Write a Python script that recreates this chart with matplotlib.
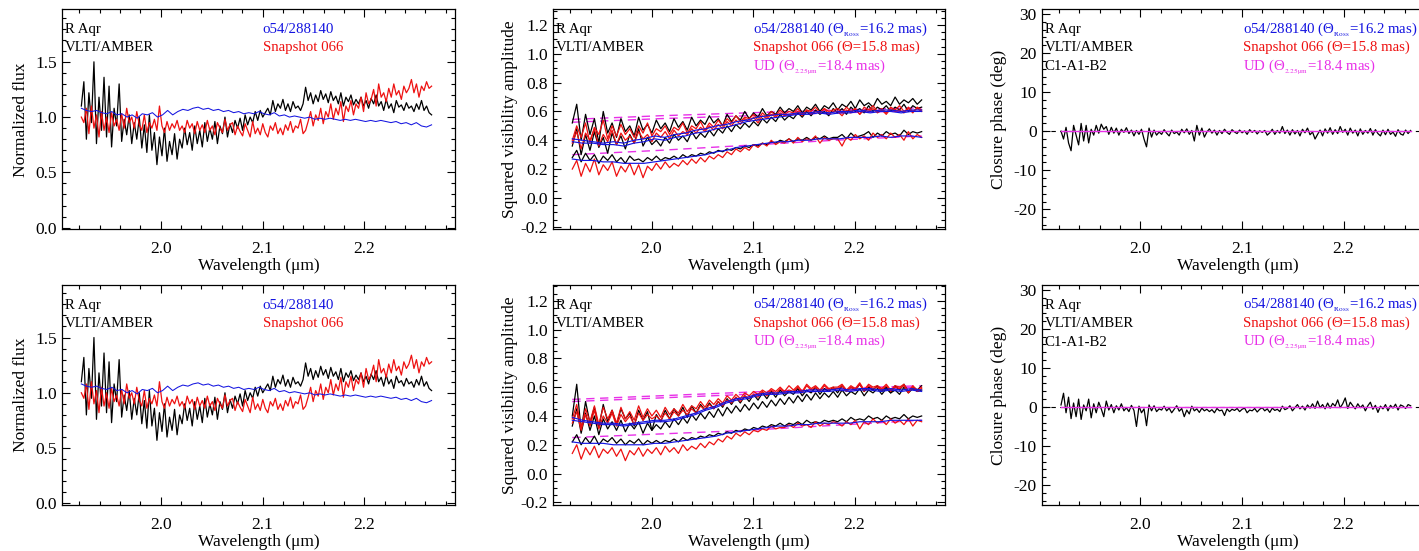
import numpy as np
import matplotlib
matplotlib.use("Agg")
import matplotlib.pyplot as plt
from matplotlib.ticker import MultipleLocator

plt.rcParams['font.family'] = ['Liberation Serif', 'DejaVu Serif']
plt.rcParams['mathtext.fontset'] = 'stix'
plt.rcParams['axes.unicode_minus'] = False
plt.rcParams['xtick.direction'] = 'in'
plt.rcParams['ytick.direction'] = 'in'
plt.rcParams['xtick.top'] = True
plt.rcParams['ytick.right'] = True

WL_MIN, WL_MAX = 1.922, 2.266

# ---- normalized flux (same in both rows) ----
flux_obs = [
    1.10, 1.32, 0.80, 1.22, 0.95, 1.50, 0.76, 1.18, 0.88, 1.36,
    0.82, 1.28, 0.73, 1.08, 0.92, 1.30, 0.78, 0.98, 0.84, 1.02,
    0.76, 0.95, 0.80, 1.00, 0.72, 0.93, 0.68, 1.02, 0.70, 0.86,
    0.57, 0.82, 0.65, 0.90, 0.60, 0.78, 0.66, 0.85, 0.62, 0.80,
    0.72, 0.90, 0.75, 0.86, 0.70, 0.92, 0.76, 0.88, 0.73, 0.95,
    0.78, 0.90, 0.80, 0.96, 0.76, 0.92, 0.85, 1.00, 0.82, 0.94,
    0.86, 0.97, 0.90, 0.99, 0.88, 1.02, 0.93, 1.00, 0.95, 1.05,
    0.97, 1.06, 1.00, 1.04, 1.08, 1.02, 1.15, 1.05, 1.12, 1.08,
    1.16, 1.06, 1.12, 1.05, 1.14, 1.08, 1.10, 1.06, 1.12, 1.27,
    1.15, 1.22, 1.12, 1.20, 1.14, 1.24, 1.16, 1.21, 1.13, 1.23,
    1.15, 1.19, 1.12, 1.22, 1.10, 1.18, 1.14, 1.20, 1.11, 1.16,
    1.12, 1.18, 1.10, 1.15, 1.08, 1.17, 1.12, 1.20, 1.10, 1.14,
    1.06, 1.16, 1.08, 1.12, 1.04, 1.15, 1.09, 1.11, 1.06, 1.13,
    1.08, 1.10, 1.05, 1.12, 1.07, 1.15, 1.06, 1.10, 1.04, 1.02,
]
flux_snap = [
    1.00, 0.95, 1.08, 0.85, 1.10, 0.90, 1.02, 0.82, 1.05, 0.88,
    1.00, 0.86, 1.04, 0.92, 0.98, 0.88, 1.03, 0.90, 1.08, 0.95,
    1.00, 0.90, 1.05, 0.93, 0.88, 1.02, 0.86, 0.95, 0.90, 0.98,
    0.88, 1.10, 0.92, 0.86, 0.96, 0.88, 0.94, 0.90, 0.97, 0.88,
    0.92, 0.86, 0.97, 0.90, 0.94, 0.85, 0.96, 0.88, 0.93, 0.86,
    0.97, 0.88, 0.92, 0.84, 0.95, 0.90, 0.86, 0.98, 0.88, 0.93,
    0.95, 0.84, 0.92, 0.87, 0.83, 0.94, 0.88, 0.82, 0.96, 0.85,
    0.90, 0.84, 0.94, 0.86, 0.82, 0.92, 0.88, 0.95, 0.85, 0.90,
    0.84, 0.93, 0.88, 0.96, 0.86, 0.92, 0.90, 0.98, 0.85, 0.88,
    0.96, 1.05, 0.92, 1.02, 0.97, 1.08, 0.94, 1.05, 1.00, 1.12,
    0.98, 1.08, 1.02, 1.14, 0.96, 1.10, 1.05, 1.15, 1.02, 1.12,
    1.08, 1.18, 1.05, 1.22, 1.12, 1.16, 1.25, 1.10, 1.30, 1.18,
    1.22, 1.14, 1.26, 1.18, 1.30, 1.20, 1.24, 1.16, 1.28, 1.22,
    1.26, 1.34, 1.22, 1.30, 1.18, 1.28, 1.24, 1.32, 1.26, 1.28,
]
flux_model = [
    1.08, 1.06, 1.05, 1.06, 1.04, 1.03, 1.05, 1.02, 1.03, 1.00,
    1.02, 0.99, 1.03, 1.02, 1.04, 1.00, 1.02, 1.06, 1.02, 1.05,
    1.07, 1.06, 1.08, 1.09, 1.07, 1.08, 1.06, 1.07, 1.05, 1.06,
    1.04, 1.05, 1.03, 1.04, 1.03, 1.05, 1.03, 1.02, 1.04, 1.01,
    1.02, 1.00, 1.01, 1.00, 0.99, 1.00, 0.98, 0.99, 0.98, 0.99,
    0.98, 0.97, 0.98, 0.97, 0.98, 0.97, 0.96, 0.97, 0.96, 0.97,
    0.96, 0.95, 0.96, 0.94, 0.95, 0.93, 0.95, 0.92, 0.91, 0.93,
]

# ---- squared visibilities, top row (three baselines) ----
vis1_obs = [
    [0.52, 0.65, 0.40, 0.58, 0.44, 0.55, 0.38, 0.60, 0.45, 0.52,
     0.42, 0.55, 0.46, 0.50, 0.43, 0.56, 0.47, 0.51, 0.45, 0.54,
     0.48, 0.52, 0.46, 0.55, 0.49, 0.53, 0.47, 0.56, 0.50, 0.54,
     0.51, 0.57, 0.52, 0.55, 0.50, 0.58, 0.53, 0.57, 0.54, 0.60,
     0.55, 0.59, 0.56, 0.62, 0.57, 0.60, 0.58, 0.63, 0.59, 0.62,
     0.60, 0.64, 0.59, 0.63, 0.61, 0.65, 0.60, 0.64, 0.62, 0.66,
     0.61, 0.65, 0.63, 0.67, 0.62, 0.68, 0.64, 0.66, 0.63, 0.69,
     0.65, 0.67, 0.64, 0.70, 0.65, 0.68, 0.66, 0.69, 0.65, 0.68],
    [0.36, 0.48, 0.30, 0.44, 0.33, 0.46, 0.35, 0.42, 0.31, 0.45,
     0.37, 0.43, 0.34, 0.44, 0.38, 0.48, 0.36, 0.42, 0.37, 0.40,
     0.36, 0.42, 0.38, 0.44, 0.40, 0.43, 0.39, 0.46, 0.41, 0.45,
     0.42, 0.47, 0.43, 0.48, 0.45, 0.50, 0.46, 0.51, 0.48, 0.52,
     0.49, 0.53, 0.50, 0.55, 0.52, 0.56, 0.53, 0.58, 0.54, 0.57,
     0.55, 0.59, 0.56, 0.60, 0.57, 0.61, 0.58, 0.60, 0.57, 0.62,
     0.59, 0.62, 0.58, 0.63, 0.60, 0.62, 0.59, 0.64, 0.60, 0.63,
     0.61, 0.64, 0.60, 0.63, 0.61, 0.65, 0.60, 0.64, 0.62, 0.63],
    [0.28, 0.33, 0.25, 0.31, 0.26, 0.30, 0.24, 0.29, 0.26, 0.30,
     0.25, 0.28, 0.24, 0.29, 0.26, 0.27, 0.25, 0.28, 0.26, 0.29,
     0.26, 0.28, 0.27, 0.29, 0.27, 0.30, 0.28, 0.30, 0.29, 0.31,
     0.30, 0.32, 0.31, 0.33, 0.32, 0.34, 0.33, 0.35, 0.34, 0.36,
     0.35, 0.37, 0.36, 0.38, 0.37, 0.39, 0.38, 0.40, 0.39, 0.41,
     0.39, 0.41, 0.40, 0.42, 0.40, 0.42, 0.41, 0.43, 0.41, 0.42,
     0.42, 0.44, 0.41, 0.45, 0.42, 0.43, 0.44, 0.46, 0.42, 0.45,
     0.43, 0.46, 0.44, 0.45, 0.43, 0.47, 0.44, 0.46, 0.45, 0.46],
]
vis1_snap = [
    [0.40, 0.50, 0.42, 0.52, 0.38, 0.49, 0.44, 0.54, 0.41, 0.50,
     0.43, 0.51, 0.44, 0.48, 0.42, 0.50, 0.45, 0.52, 0.43, 0.48,
     0.46, 0.50, 0.44, 0.49, 0.47, 0.52, 0.45, 0.50, 0.48, 0.53,
     0.47, 0.52, 0.49, 0.54, 0.50, 0.55, 0.52, 0.57, 0.53, 0.56,
     0.55, 0.58, 0.54, 0.59, 0.56, 0.60, 0.57, 0.61, 0.58, 0.60,
     0.59, 0.62, 0.58, 0.61, 0.60, 0.63, 0.59, 0.62, 0.60, 0.61,
     0.62, 0.59, 0.63, 0.60, 0.62, 0.58, 0.63, 0.61, 0.64, 0.60,
     0.62, 0.59, 0.63, 0.61, 0.64, 0.60, 0.62, 0.59, 0.63, 0.61],
    [0.38, 0.46, 0.34, 0.45, 0.40, 0.48, 0.36, 0.44, 0.39, 0.47,
     0.37, 0.45, 0.40, 0.43, 0.38, 0.46, 0.41, 0.44, 0.39, 0.45,
     0.42, 0.46, 0.41, 0.47, 0.43, 0.46, 0.44, 0.48, 0.45, 0.49,
     0.46, 0.50, 0.47, 0.51, 0.48, 0.53, 0.50, 0.54, 0.51, 0.55,
     0.53, 0.56, 0.52, 0.57, 0.55, 0.58, 0.56, 0.59, 0.57, 0.58,
     0.58, 0.60, 0.57, 0.61, 0.58, 0.60, 0.59, 0.62, 0.58, 0.60,
     0.60, 0.57, 0.61, 0.59, 0.62, 0.58, 0.61, 0.60, 0.62, 0.59,
     0.61, 0.58, 0.62, 0.60, 0.61, 0.59, 0.63, 0.60, 0.62, 0.60],
    [0.20, 0.26, 0.15, 0.24, 0.18, 0.27, 0.16, 0.23, 0.19, 0.25,
     0.15, 0.22, 0.18, 0.24, 0.16, 0.23, 0.14, 0.22, 0.19, 0.24,
     0.20, 0.25, 0.21, 0.24, 0.22, 0.26, 0.23, 0.27, 0.24, 0.28,
     0.25, 0.29, 0.27, 0.30, 0.28, 0.32, 0.30, 0.34, 0.32, 0.35,
     0.33, 0.37, 0.35, 0.38, 0.36, 0.40, 0.37, 0.39, 0.38, 0.41,
     0.38, 0.42, 0.39, 0.41, 0.40, 0.43, 0.38, 0.42, 0.40, 0.41,
     0.41, 0.36, 0.42, 0.40, 0.44, 0.41, 0.43, 0.40, 0.45, 0.42,
     0.44, 0.41, 0.45, 0.42, 0.44, 0.40, 0.46, 0.41, 0.44, 0.42],
]
vis1_model = [
    [0.41, 0.40, 0.39, 0.38, 0.39, 0.38, 0.40, 0.41, 0.43, 0.42,
     0.44, 0.45, 0.47, 0.48, 0.50, 0.51, 0.53, 0.54, 0.56, 0.57,
     0.58, 0.58, 0.59, 0.59, 0.60, 0.59, 0.60, 0.60, 0.61, 0.60,
     0.61, 0.61, 0.60, 0.61, 0.61],
    [0.39, 0.38, 0.38, 0.37, 0.37, 0.36, 0.38, 0.39, 0.41, 0.40,
     0.42, 0.43, 0.45, 0.46, 0.48, 0.49, 0.51, 0.53, 0.54, 0.55,
     0.56, 0.57, 0.58, 0.58, 0.59, 0.58, 0.59, 0.59, 0.60, 0.59,
     0.60, 0.60, 0.59, 0.60, 0.60],
    [0.27, 0.26, 0.26, 0.25, 0.25, 0.24, 0.24, 0.24, 0.25, 0.26,
     0.27, 0.28, 0.29, 0.30, 0.32, 0.33, 0.35, 0.36, 0.37, 0.38,
     0.39, 0.39, 0.40, 0.40, 0.41, 0.41, 0.41, 0.42, 0.42, 0.42,
     0.43, 0.42, 0.43, 0.43, 0.42],
]
vis1_ud = [
    [0.545, 0.570, 0.590, 0.610, 0.625],
    [0.525, 0.550, 0.570, 0.590, 0.605],
    [0.300, 0.330, 0.365, 0.400, 0.430],
]

# ---- squared visibilities, bottom row ----
vis2_obs = [
    [0.40, 0.62, 0.30, 0.50, 0.35, 0.46, 0.32, 0.48, 0.36, 0.44,
     0.34, 0.45, 0.38, 0.42, 0.33, 0.44, 0.37, 0.43, 0.30, 0.41,
     0.36, 0.44, 0.38, 0.45, 0.40, 0.46, 0.39, 0.47, 0.42, 0.48,
     0.44, 0.49, 0.45, 0.50, 0.46, 0.52, 0.48, 0.53, 0.49, 0.54,
     0.50, 0.55, 0.51, 0.56, 0.52, 0.57, 0.53, 0.58, 0.54, 0.57,
     0.55, 0.59, 0.54, 0.58, 0.56, 0.60, 0.55, 0.59, 0.57, 0.60,
     0.56, 0.61, 0.57, 0.60, 0.58, 0.62, 0.57, 0.60, 0.58, 0.61,
     0.57, 0.60, 0.56, 0.61, 0.58, 0.62, 0.57, 0.60, 0.58, 0.61],
    [0.33, 0.45, 0.28, 0.42, 0.30, 0.40, 0.27, 0.38, 0.31, 0.36,
     0.30, 0.37, 0.29, 0.35, 0.31, 0.36, 0.28, 0.35, 0.30, 0.34,
     0.31, 0.36, 0.32, 0.38, 0.34, 0.39, 0.35, 0.41, 0.37, 0.42,
     0.38, 0.43, 0.39, 0.45, 0.40, 0.46, 0.42, 0.47, 0.43, 0.48,
     0.44, 0.49, 0.45, 0.50, 0.46, 0.51, 0.47, 0.52, 0.48, 0.53,
     0.49, 0.54, 0.50, 0.55, 0.51, 0.56, 0.52, 0.56, 0.53, 0.57,
     0.53, 0.58, 0.54, 0.57, 0.55, 0.59, 0.54, 0.58, 0.56, 0.59,
     0.55, 0.59, 0.56, 0.58, 0.55, 0.60, 0.56, 0.59, 0.57, 0.58],
    [0.22, 0.27, 0.20, 0.25, 0.21, 0.26, 0.20, 0.24, 0.22, 0.25,
     0.21, 0.24, 0.20, 0.23, 0.21, 0.24, 0.20, 0.23, 0.21, 0.23,
     0.21, 0.23, 0.22, 0.24, 0.22, 0.25, 0.23, 0.25, 0.24, 0.26,
     0.25, 0.27, 0.26, 0.28, 0.27, 0.29, 0.28, 0.30, 0.29, 0.31,
     0.30, 0.32, 0.31, 0.33, 0.32, 0.34, 0.33, 0.35, 0.33, 0.35,
     0.34, 0.36, 0.34, 0.37, 0.35, 0.36, 0.35, 0.37, 0.36, 0.37,
     0.36, 0.38, 0.36, 0.39, 0.37, 0.38, 0.37, 0.40, 0.38, 0.39,
     0.37, 0.40, 0.38, 0.39, 0.38, 0.41, 0.38, 0.40, 0.39, 0.40],
]
vis2_snap = [
    [0.38, 0.48, 0.32, 0.45, 0.36, 0.47, 0.34, 0.46, 0.38, 0.44,
     0.35, 0.46, 0.38, 0.43, 0.37, 0.47, 0.39, 0.45, 0.40, 0.44,
     0.39, 0.46, 0.41, 0.45, 0.42, 0.48, 0.43, 0.47, 0.45, 0.50,
     0.46, 0.51, 0.48, 0.52, 0.49, 0.54, 0.51, 0.55, 0.52, 0.56,
     0.54, 0.57, 0.55, 0.58, 0.56, 0.59, 0.57, 0.60, 0.57, 0.61,
     0.58, 0.61, 0.57, 0.62, 0.59, 0.61, 0.58, 0.62, 0.59, 0.60,
     0.60, 0.62, 0.58, 0.61, 0.59, 0.63, 0.58, 0.62, 0.60, 0.61,
     0.59, 0.62, 0.58, 0.61, 0.60, 0.62, 0.57, 0.61, 0.58, 0.60],
    [0.35, 0.43, 0.30, 0.41, 0.33, 0.44, 0.31, 0.40, 0.35, 0.42,
     0.33, 0.41, 0.36, 0.40, 0.34, 0.42, 0.37, 0.41, 0.38, 0.40,
     0.37, 0.42, 0.38, 0.43, 0.40, 0.44, 0.41, 0.45, 0.42, 0.47,
     0.44, 0.48, 0.45, 0.50, 0.47, 0.51, 0.49, 0.53, 0.50, 0.54,
     0.52, 0.55, 0.53, 0.57, 0.54, 0.58, 0.55, 0.59, 0.56, 0.58,
     0.57, 0.60, 0.56, 0.61, 0.58, 0.60, 0.57, 0.61, 0.58, 0.59,
     0.59, 0.61, 0.57, 0.60, 0.58, 0.62, 0.57, 0.61, 0.59, 0.60,
     0.58, 0.61, 0.57, 0.60, 0.59, 0.61, 0.56, 0.60, 0.57, 0.59],
    [0.14, 0.20, 0.10, 0.18, 0.13, 0.19, 0.11, 0.17, 0.14, 0.18,
     0.12, 0.17, 0.09, 0.16, 0.13, 0.18, 0.12, 0.17, 0.14, 0.18,
     0.13, 0.19, 0.15, 0.18, 0.14, 0.20, 0.16, 0.19, 0.17, 0.21,
     0.18, 0.22, 0.20, 0.24, 0.22, 0.26, 0.24, 0.28, 0.26, 0.29,
     0.27, 0.30, 0.29, 0.31, 0.30, 0.33, 0.31, 0.32, 0.32, 0.34,
     0.32, 0.35, 0.33, 0.34, 0.32, 0.36, 0.33, 0.35, 0.34, 0.36,
     0.35, 0.33, 0.36, 0.34, 0.37, 0.31, 0.36, 0.34, 0.38, 0.35,
     0.37, 0.34, 0.38, 0.35, 0.37, 0.34, 0.38, 0.33, 0.37, 0.36],
]
vis2_model = [
    [0.39, 0.37, 0.36, 0.35, 0.35, 0.34, 0.35, 0.36, 0.37, 0.37,
     0.38, 0.40, 0.42, 0.45, 0.47, 0.50, 0.52, 0.53, 0.55, 0.56,
     0.56, 0.57, 0.57, 0.58, 0.58, 0.58, 0.59, 0.58, 0.59, 0.59,
     0.58, 0.59, 0.58, 0.59, 0.58],
    [0.37, 0.36, 0.35, 0.34, 0.34, 0.33, 0.34, 0.35, 0.36, 0.36,
     0.37, 0.39, 0.41, 0.44, 0.46, 0.49, 0.51, 0.52, 0.54, 0.55,
     0.55, 0.56, 0.56, 0.57, 0.57, 0.57, 0.58, 0.57, 0.58, 0.58,
     0.57, 0.58, 0.57, 0.58, 0.57],
    [0.22, 0.21, 0.21, 0.21, 0.20, 0.20, 0.20, 0.20, 0.21, 0.21,
     0.22, 0.23, 0.24, 0.25, 0.26, 0.28, 0.29, 0.30, 0.31, 0.32,
     0.33, 0.33, 0.34, 0.34, 0.35, 0.35, 0.35, 0.35, 0.36, 0.36,
     0.36, 0.37, 0.37, 0.37, 0.37],
]
vis2_ud = [
    [0.515, 0.540, 0.565, 0.590, 0.610],
    [0.500, 0.525, 0.550, 0.575, 0.600],
    [0.250, 0.275, 0.300, 0.335, 0.370],
]

# ---- closure phases (deg) ----
cp1_obs = [
    0.0, -2.0, 1.0, -3.0, -5.0, 1.5, -1.0, -3.5, 2.0, -2.5,
    1.5, -3.0, 0.5, -1.0, 1.5, -0.5, 1.8, 0.5, 1.2, -0.8,
    1.0, -0.5, 0.8, -1.0, 0.5, -0.3, 0.9, -0.6, 0.3, -1.2,
    0.2, -0.8, 0.5, -2.0, -4.0, 0.8, -1.5, 0.3, -1.0, -0.2,
    -0.8, 0.4, -0.5, -1.2, 0.3, -0.6, -0.2, -1.0, 0.5, -0.4,
    0.6, -0.8, 0.2, -2.5, 1.5, -1.0, 0.8, -1.5, -0.2, 0.6,
    -0.5, 0.3, -1.0, 0.2, -0.6, 0.5, -0.3, -0.8, 0.4, -0.2,
    -0.6, 0.3, -0.4, 0.1, -0.8, 0.4, -0.3, 0.2, -0.7, 0.1,
    -0.3, 0.2, -1.0, -0.4, 0.5, -0.8, 0.2, -0.5, 1.2, -0.6,
    0.3, -1.0, 0.4, -0.7, 0.2, -1.2, 0.5, -0.4, 0.8, -0.9,
    -0.2, -2.0, -0.8, 0.3, -1.2, 0.6, -0.5, 0.9, -0.8, 0.4,
    -0.6, 1.2, -0.3, 0.5, -1.0, 0.8, -0.5, 0.3, -1.2, 0.6,
    -0.8, 0.2, -0.5, 0.7, -1.0, 0.4, -0.6, -1.2, 0.3, -0.9,
    0.5, -0.8, -0.2, -1.3, 0.4, -0.7, -1.0, 0.3, -0.6, 0.2,
]
cp2_obs = [
    0.5, 3.5, -1.5, 2.5, -3.0, 1.0, -2.5, 2.0, -3.2, 0.5,
    -1.0, 2.0, -2.8, 0.8, -1.5, 1.2, -0.5, -2.5, 1.5, -0.8,
    0.6, -1.5, 0.3, -0.8, 0.8, -1.0, -0.2, -1.2, 0.4, -0.9,
    -5.0, 0.2, -1.5, -0.5, -4.8, 0.5, -1.0, 0.3, -1.2, -0.5,
    -0.8, 0.2, -1.0, -0.3, -1.5, -0.6, 0.3, -1.1, -0.4, -2.5,
    -0.8, -1.8, 0.2, -1.0, -0.5, -1.4, -0.3, -1.0, -0.6, -1.2,
    -0.7, -1.5, -0.4, -1.0, -0.8, -2.2, -0.5, -1.2, -0.6, -0.9,
    -0.4, -1.2, -0.6, -0.3, -1.5, -0.8, -1.0, -0.4, -1.3, -0.6,
    -0.2, -1.0, -0.5, -1.4, -0.3, -0.9, -0.6, -1.2, 0.2, -0.7,
    -0.4, 0.3, -1.0, -0.2, 0.6, -0.5, 0.2, -0.8, 0.5, -0.3,
    0.8, -0.4, 1.5, -0.2, 0.6, -0.5, 1.0, -0.3, 0.9, 0.2,
    1.8, -0.2, 0.8, 2.3, -0.4, 1.2, 0.3, -0.5, 0.8, -0.2,
    0.5, -1.0, 0.3, 1.2, -0.6, 0.4, -1.4, 0.2, -0.5, 0.6,
    -1.0, 0.4, -0.3, 0.7, -0.8, 0.5, 0.2, -0.4, 0.6, 0.3,
]
cp_ud = [0.0, 0.0]

BLUE = '#1414e0'
RED = '#ee1111'
MAG = '#e830e8'
THETA_LINES = [
    ('o54/288140 (Θ$_{_{\\rm Ross}}$=16.2 mas)', BLUE),
    ('Snapshot 066 (Θ=15.8 mas)', RED),
    ('UD (Θ$_{_{\\rm 2.25µm}}$=18.4 mas)', MAG),
]
W, H = 1419, 551


def grid(vals):
    return np.linspace(WL_MIN, WL_MAX, len(vals))


def make_axes(fig, left, right, top, bottom):
    return fig.add_axes([left / W, 1 - bottom / H, (right - left) / W, (bottom - top) / H])


def style(ax, ylim, ymaj, ymin, ylabel, lab_x):
    ax.set_xlim(1.903, 2.289)
    ax.set_ylim(*ylim)
    ax.xaxis.set_major_locator(MultipleLocator(0.1))
    ax.xaxis.set_minor_locator(MultipleLocator(0.02))
    ax.yaxis.set_major_locator(MultipleLocator(ymaj))
    ax.yaxis.set_minor_locator(MultipleLocator(ymin))
    ax.tick_params(which='major', length=6, width=0.8, labelsize=12.5)
    ax.tick_params(which='minor', length=3, width=0.8)
    ax.tick_params(axis='x', which='major', pad=8.5)
    ax.xaxis.set_major_formatter(plt.FuncFormatter(lambda v, p: f'{v:.1f}'))
    ax.set_xlabel('Wavelength (μm)', fontsize=12.5, labelpad=0.5)
    ax.set_ylabel(ylabel, fontsize=12.5)
    ax.yaxis.set_label_coords(lab_x, 0.5)
    for s in ax.spines.values():
        s.set_linewidth(0.9)


def labels(ax, left_lines, right_lines, xr):
    ys = [0.892, 0.81, 0.724]
    for t, y in zip(left_lines, ys):
        ax.text(0.008, y, t, transform=ax.transAxes, fontsize=10.7, va='baseline')
    for (t, c), y in zip(right_lines, ys):
        ax.text(xr, y, t, transform=ax.transAxes, fontsize=10.7, va='baseline', color=c)


fig = plt.figure(figsize=(W / 100, H / 100), dpi=100)

rows = [
    (9.3, 229.3, vis1_obs, vis1_snap, vis1_model, vis1_ud, cp1_obs),
    (285.0, 505.0, vis2_obs, vis2_snap, vis2_model, vis2_ud, cp2_obs),
]

for top, bot, v_obs, v_snap, v_mod, v_ud, cp_obs in rows:
    # flux
    ax = make_axes(fig, 62, 455, top, bot)
    ax.plot(grid(flux_obs), flux_obs, color='black', lw=0.9)
    ax.plot(grid(flux_snap), flux_snap, color=RED, lw=0.9)
    ax.plot(grid(flux_model), flux_model, color=BLUE, lw=0.75)
    style(ax, (-0.015, 1.975), 0.5, 0.1, 'Normalized flux', -0.085)
    ax.yaxis.set_major_formatter(plt.FuncFormatter(lambda v, p: f'{v:.1f}'))
    labels(ax, ['R Aqr', 'VLTI/AMBER'], [('o54/288140', BLUE), ('Snapshot 066', RED)], 0.511)

    # squared visibilities
    ax = make_axes(fig, 553, 945, top, bot)
    for ud in v_ud:
        ax.plot(grid(ud), ud, color=MAG, lw=1.0, dashes=(6, 4))
    for o in v_obs:
        ax.plot(grid(o), o, color='black', lw=0.9)
    for s in v_snap:
        ax.plot(grid(s), s, color=RED, lw=0.9)
    for m in v_mod:
        ax.plot(grid(m), m, color=BLUE, lw=0.85)
    style(ax, (-0.218, 1.309), 0.2, 0.05, 'Squared visibility amplitude', -0.09)
    ax.yaxis.set_major_formatter(plt.FuncFormatter(lambda v, p: f'{v:.1f}'))
    labels(ax, ['R Aqr', 'VLTI/AMBER'], THETA_LINES, 0.509)

    # closure phase
    ax = make_axes(fig, 1041.7, 1434, top, bot)
    ax.axhline(0, color='black', lw=0.8, ls=(0, (4, 4)))
    ax.plot(grid(cp_obs), cp_obs, color='black', lw=0.9)
    ax.plot(grid(cp_ud), cp_ud, color=MAG, lw=1.0)
    style(ax, (-25.1, 31.2), 10, 2, 'Closure phase (deg)', -0.088)
    labels(ax, ['R Aqr', 'VLTI/AMBER', 'C1-A1-B2'], THETA_LINES, 0.513)

fig.savefig('out.png', dpi=100)
